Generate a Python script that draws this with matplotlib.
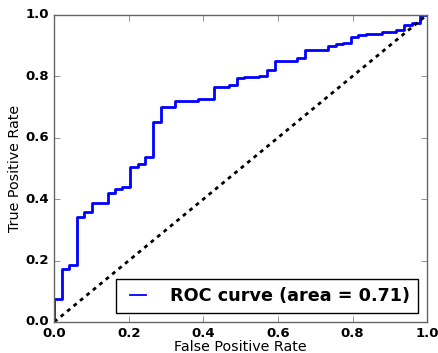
import matplotlib
matplotlib.use("Agg")
import matplotlib.pyplot as plt

# ROC curve corners (steps-post)
fpr = [0.0, 0.0, 0.02, 0.04, 0.061, 0.08, 0.1, 0.143, 0.163, 0.182, 0.203,
       0.224, 0.244, 0.266, 0.286, 0.325, 0.386, 0.428, 0.468, 0.489, 0.509,
       0.55, 0.571, 0.591, 0.652, 0.673, 0.734, 0.755, 0.775, 0.796, 0.816,
       0.837, 0.878, 0.918, 0.938, 0.96, 0.98, 1.0]
tpr = [0.0, 0.075, 0.172, 0.186, 0.343, 0.359, 0.386, 0.421, 0.432, 0.438,
       0.506, 0.515, 0.538, 0.651, 0.699, 0.720, 0.726, 0.766, 0.772, 0.794,
       0.797, 0.802, 0.819, 0.85, 0.86, 0.887, 0.897, 0.904, 0.908, 0.928,
       0.935, 0.938, 0.944, 0.950, 0.967, 0.975, 1.0, 1.0]
roc_auc = 0.71
ticks = [0.0, 0.2, 0.4, 0.6, 0.8, 1.0]

plt.style.use("classic")
fig = plt.figure(figsize=(4.38, 3.53), dpi=100)
ax = fig.add_axes([0.124, 0.088, 0.851, 0.870])

ax.plot(fpr, tpr, color="blue", lw=2, drawstyle="steps-post",
        label="ROC curve (area = %0.2f)" % roc_auc)
ax.plot([0, 1], [0, 1], color="black", lw=2, linestyle=(0, (2.8, 3.2)))

ax.set_xlim(0.0, 1.0)
ax.set_ylim(0.0, 1.0)
ax.set_xticks(ticks)
ax.set_yticks(ticks)
ax.tick_params(labelsize=9.5, direction="in", colors="0.4", labelcolor="black")
for lab in ax.get_xticklabels() + ax.get_yticklabels():
    lab.set_fontweight("bold")
for sp in ax.spines.values():
    sp.set_color("0.4")

ax.set_xlabel("False Positive Rate", fontsize=10.3, labelpad=0)
ax.set_ylabel("True Positive Rate", fontsize=10.3, labelpad=2)

leg = ax.legend(loc="lower right", prop={"weight": "bold", "size": 12.7},
                handlelength=1.55, handletextpad=1.05, borderpad=0.45,
                borderaxespad=0.5)
leg.get_frame().set_linewidth(1)
leg.get_lines()[0].set_linewidth(1.3)

fig.savefig("out.png", dpi=100, facecolor="white")
